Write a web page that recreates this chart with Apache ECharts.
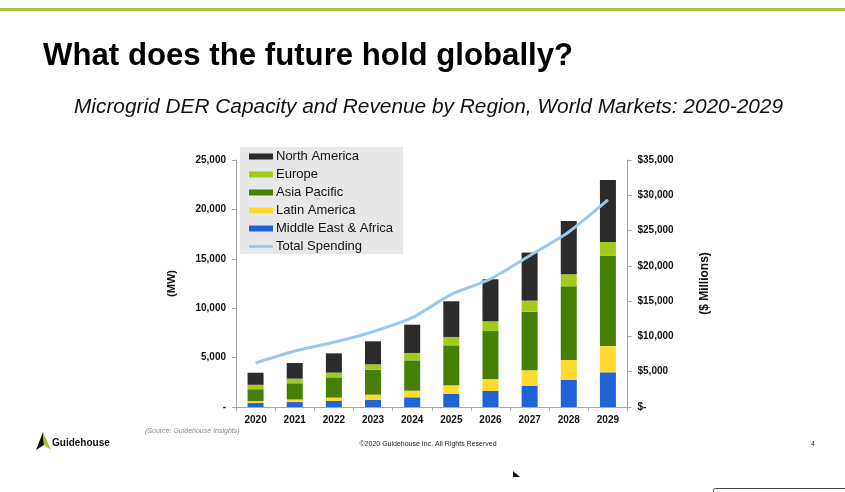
<!DOCTYPE html>
<html>
<head>
<meta charset="utf-8">
<title>Microgrid DER Capacity and Revenue</title>
<script src="https://cdn.jsdelivr.net/npm/echarts@6/dist/echarts.min.js"></script>
<style>
  html, body { margin: 0; padding: 0; background: #fff; }
  #chart { width: 845px; height: 492px; }
</style>
</head>
<body>
<div id="chart"></div>
<script>
var years = ['2020','2021','2022','2023','2024','2025','2026','2027','2028','2029'];

// MW per region
var middleEast = [400, 500, 610, 740, 980, 1320, 1620, 2160, 2760, 3510];
var latinAmerica = [200, 260, 340, 510, 670, 870, 1210, 1550, 2000, 2660];
var asiaPacific = [1200, 1640, 2050, 2530, 3070, 4050, 4860, 5940, 7460, 9120];
var europe = [450, 470, 480, 540, 750, 850, 980, 1120, 1220, 1410];
var northAmerica = [1220, 1580, 1950, 2330, 2860, 3610, 4260, 4860, 5390, 6280];

// $ millions
var totalSpending = [6240, 7930, 9170, 10670, 12650, 15950, 18140, 21440, 24800, 29340];

var leftTicks = ['-', '5,000', '10,000', '15,000', '20,000', '25,000'];
var rightTicks = ['$-', '$5,000', '$10,000', '$15,000', '$20,000', '$25,000', '$30,000', '$35,000'];

var FONT = '"Liberation Sans", Arial, sans-serif';
var axisGray = '#a6a6a6';

function barSeries(name, data, color) {
  return {
    name: name,
    type: 'bar',
    stack: 'mw',
    barWidth: 16,
    data: data,
    itemStyle: { color: color },
    animation: false
  };
}

function slideText(x, y, text, font, color, align) {
  return {
    type: 'text',
    x: x,
    y: y,
    style: {
      text: text,
      font: font,
      fill: color || '#000',
      align: align || 'left',
      verticalAlign: 'middle'
    }
  };
}

var chart = echarts.init(document.getElementById('chart'), null, { renderer: 'canvas' });

chart.setOption({
  backgroundColor: '#fff',
  animation: false,
  textStyle: { fontFamily: FONT },
  grid: { left: 236, right: 217.5, top: 160, bottom: 85, containLabel: false },
  legend: {
    left: 240,
    top: 147,
    orient: 'vertical',
    backgroundColor: '#e8e8e8',
    padding: [3, 10, 1, 9],
    itemWidth: 24,
    itemHeight: 6,
    itemGap: 5,
    selectedMode: false,
    textStyle: { fontFamily: FONT, fontSize: 13, color: '#111', padding: [0, 0, 0, -2] },
    data: [
      { name: 'North America', icon: 'rect' },
      { name: 'Europe', icon: 'rect' },
      { name: 'Asia Pacific', icon: 'rect' },
      { name: 'Latin America', icon: 'rect' },
      { name: 'Middle East & Africa', icon: 'rect' },
      { name: 'Total Spending', icon: 'path://M0,0 L24,0 L24,3 L0,3 Z' }
    ]
  },
  xAxis: {
    type: 'category',
    data: years,
    axisLine: { lineStyle: { color: axisGray, width: 1 } },
    axisTick: { show: true, alignWithLabel: false, length: 4, lineStyle: { color: axisGray } },
    axisLabel: { color: '#111', fontFamily: FONT, fontSize: 10, fontWeight: 'bold', margin: 8 }
  },
  yAxis: [
    {
      type: 'value',
      min: 0,
      max: 25000,
      interval: 5000,
      name: '(MW)',
      nameLocation: 'middle',
      nameGap: 59,
      nameRotate: 90,
      nameTextStyle: { color: '#111', fontFamily: FONT, fontSize: 11, fontWeight: 'bold' },
      axisLine: { show: true, lineStyle: { color: axisGray } },
      axisTick: { show: true, length: 4, lineStyle: { color: axisGray } },
      axisLabel: {
        color: '#111', fontFamily: FONT, fontSize: 10, fontWeight: 'bold', margin: 10,
        formatter: function(v) { return leftTicks[v / 5000]; }
      },
      splitLine: { show: false }
    },
    {
      type: 'value',
      position: 'right',
      min: 0,
      max: 35000,
      interval: 5000,
      name: '($ Millions)',
      nameLocation: 'middle',
      nameGap: 71,
      nameRotate: 90,
      nameTextStyle: { color: '#111', fontFamily: FONT, fontSize: 12, fontWeight: 'bold' },
      axisLine: { show: true, lineStyle: { color: axisGray } },
      axisTick: { show: true, length: 4, lineStyle: { color: axisGray } },
      axisLabel: {
        color: '#111', fontFamily: FONT, fontSize: 10, fontWeight: 'bold', margin: 10,
        formatter: function(v) { return rightTicks[v / 5000]; }
      },
      splitLine: { show: false }
    }
  ],
  series: [
    barSeries('Middle East & Africa', middleEast, '#1f63d6'),
    barSeries('Latin America', latinAmerica, '#ffd92f'),
    barSeries('Asia Pacific', asiaPacific, '#467f05'),
    barSeries('Europe', europe, '#a2cb1c'),
    barSeries('North America', northAmerica, '#2b2b2b'),
    {
      name: 'Total Spending',
      type: 'line',
      yAxisIndex: 1,
      data: totalSpending,
      smooth: 0.2,
      symbol: 'none',
      lineStyle: { color: '#99c9ef', width: 3 },
      itemStyle: { color: '#99c9ef' },
      animation: false
    }
  ],
  // slide furniture around the chart
  graphic: [
    { type: 'rect', shape: { x: 0, y: 8, width: 845, height: 3 }, style: { fill: '#a5c73a' } },
    slideText(43, 56, 'What does the future hold globally?', 'bold 31.2px ' + FONT),
    slideText(74, 107, 'Microgrid DER Capacity and Revenue by Region, World Markets: 2020-2029', 'italic 20.85px ' + FONT, '#111'),
    slideText(145, 431, '(Source: Guidehouse Insights)', 'italic 7px ' + FONT, '#8c8c8c'),
    slideText(428, 444, '©2020 Guidehouse Inc. All Rights Reserved', '7px ' + FONT, '#222', 'center'),
    slideText(813, 444, '4', '7px ' + FONT, '#222', 'center'),
    slideText(52, 443, 'Guidehouse', 'bold 10px ' + FONT, '#111'),
    { type: 'polygon', shape: { points: [[43, 432], [36, 450], [44, 445]] }, style: { fill: '#111' } },
    { type: 'polygon', shape: { points: [[43, 432], [44, 445], [51, 450]] }, style: { fill: '#a2cb1c' } },
    { type: 'polygon', shape: { points: [[513, 471], [513, 477], [520, 477]] }, style: { fill: '#111' } },
    { type: 'rect', shape: { x: 713.5, y: 488.5, width: 140, height: 12, r: 2 }, style: { fill: '#fff', stroke: '#444', lineWidth: 1 } }
  ]
});

window.addEventListener('resize', function() { chart.resize(); });
</script>
</body>
</html>
